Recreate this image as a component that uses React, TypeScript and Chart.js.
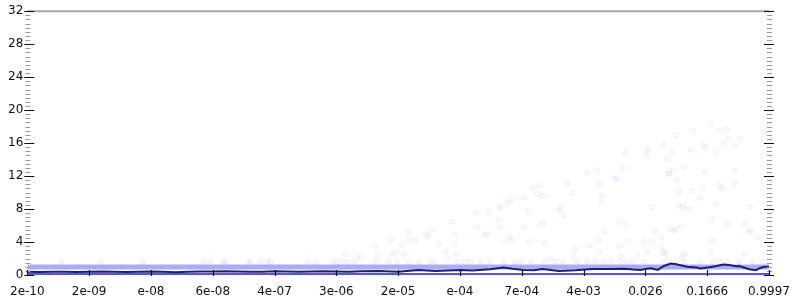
import React, { useEffect, useRef } from "react";
import { Chart, registerables } from "chart.js";

Chart.register(...registerables);

const xTickLabels = ["2e-10", "2e-09", "e-08", "6e-08", "4e-07", "3e-06", "2e-05", "e-04", "7e-04", "4e-03", "0.026", "0.1666", "0.9997"];
const yMajorTicks = [0, 4, 8, 12, 16, 20, 24, 28, 32];
const yMinorStep = 0.5;

const meanX = [0, 0.2, 0.4, 0.6, 0.8, 1.0, 1.2, 1.4, 1.6, 1.8, 2.0, 2.2, 2.4, 2.6, 2.8, 3.0, 3.2, 3.4, 3.6, 3.8, 4.0, 4.2, 4.4, 4.6, 4.8, 5.0, 5.2, 5.4, 5.69, 6.0, 6.33, 6.6, 7.01, 7.2, 7.49, 7.7, 7.85, 8.02, 8.2, 8.34, 8.6, 8.87, 9.14, 9.4, 9.67, 9.8, 9.93, 10.0, 10.09, 10.2, 10.3, 10.41, 10.5, 10.62, 10.67, 10.83, 10.89, 11.04, 11.15, 11.26, 11.35, 11.47, 11.52, 11.68, 11.79, 11.85, 11.92, 12];
const meanY = [0.38, 0.36, 0.4, 0.38, 0.35, 0.38, 0.41, 0.38, 0.36, 0.39, 0.43, 0.38, 0.34, 0.38, 0.41, 0.43, 0.46, 0.43, 0.4, 0.38, 0.44, 0.41, 0.38, 0.42, 0.46, 0.41, 0.38, 0.44, 0.48, 0.38, 0.62, 0.5, 0.62, 0.55, 0.7, 0.9, 0.75, 0.62, 0.58, 0.72, 0.5, 0.58, 0.72, 0.72, 0.76, 0.66, 0.62, 0.74, 0.82, 0.62, 1.1, 1.38, 1.3, 1.1, 1.0, 0.9, 0.8, 0.95, 1.1, 1.28, 1.2, 1.05, 1.1, 0.7, 0.58, 0.82, 1.0, 1.0];

const bandUpperY = 0.98;
const bandLowerY = 0.1;
const bandRangeX = [0, 12];

const outlierX = [8.03, 7.82, 7.77, 7.63, 7.66, 7.47, 7.25, 7.62, 6.87, 7.28, 7.65, 8.03, 6.55, 6.16, 6.45, 6.49, 7.39, 7.44, 6.91, 5.89, 6.19, 6.28, 7.80, 7.73, 7.83, 6.66, 6.06, 6.93, 5.63, 6.77, 5.91, 5.98, 6.10, 6.94, 5.15, 5.33, 5.40, 5.67, 6.80,
  11.06, 10.78, 11.20, 11.31, 10.49, 11.53, 11.35, 11.27, 11.46, 11.94, 10.30, 10.94, 10.97, 10.04, 10.02, 10.73, 10.42, 11.13, 9.67, 10.03, 10.35, 10.62, 9.63, 9.22, 9.05, 10.45, 10.95, 10.37, 10.39, 11.45, 9.51, 9.54, 10.51, 9.26, 8.74, 11.45, 8.28, 8.18, 11.20, 11.24, 10.94, 10.55, 10.76, 8.82, 8.26, 8.33, 9.30, 10.89, 9.29, 11.14, 10.11, 10.54, 10.60, 10.65, 10.73, 11.69, 8.62, 8.61, 8.68, 8.11, 11.07, 9.58, 9.68, 8.28, 8.35, 11.33, 11.61, 10.40, 10.45, 10.49, 10.57, 11.70, 11.68, 9.34, 10.17, 10.26, 9.24, 11.82, 8.12, 8.37, 9.73, 9.99, 10.09, 11.09, 9.10, 9.58, 10.26, 8.87, 9.24, 10.04, 10.30, 10.32, 11.06, 8.83, 9.60, 9.87, 10.60, 10.64, 11.60, 8.46];
const outlierY = [9.38, 9.19, 8.75, 8.31, 8.07, 7.71, 7.55, 6.59, 6.47, 5.79, 5.84, 5.79, 5.48, 5.15, 4.95, 4.71, 4.91, 4.95, 4.91, 4.43, 4.28, 4.07, 4.59, 4.16, 4.23, 3.75, 3.68, 3.68, 3.56, 2.79, 2.60, 2.72, 2.55, 2.55, 2.55, 2.31, 2.04, 2.31, 1.95,
  18.42, 17.53, 17.53, 17.62, 16.93, 16.50, 16.46, 15.90, 15.78, 17.38, 15.66, 15.66, 15.54, 15.30, 14.98, 15.18, 14.98, 14.98, 14.71, 14.47, 14.11, 13.06, 12.91, 12.70, 12.38, 12.70, 12.46, 12.31, 12.26, 12.70, 11.66, 11.71, 11.51, 11.06, 11.06, 11.27, 10.82, 10.55, 10.82, 10.58, 10.58, 10.27, 10.19, 9.98, 9.83, 9.59, 9.62, 9.43, 8.78, 8.55, 8.19, 8.47, 8.27, 7.95, 7.95, 8.31, 8.19, 7.79, 7.27, 7.79, 6.83, 6.47, 6.15, 6.11, 6.39, 6.20, 6.23, 5.60, 5.43, 5.55, 5.87, 5.39, 5.12, 5.19, 5.27, 4.52, 4.28, 4.59, 3.99, 3.87, 4.11, 3.99, 3.99, 4.11, 3.56, 3.51, 3.39, 3.12, 2.76, 2.76, 2.67, 2.79, 2.76, 2.31, 2.31, 2.31, 2.36, 2.55, 2.55, 1.95];

const nearBandX = [0.55, 1.19, 1.87, 2.85, 2.96, 3.17, 3.21, 3.57, 3.62, 3.78, 3.89, 3.94, 4.54, 4.67, 4.95, 5.03, 5.11, 5.19, 5.29, 5.64, 5.85, 5.98, 6.17, 6.33, 6.51, 6.59, 6.96, 7.07, 7.17, 7.33, 7.49, 7.71, 7.89, 7.99, 8.15, 8.37, 8.55, 8.66, 8.90, 9.06, 9.19, 9.32, 9.45, 9.59, 9.69, 9.80, 9.98, 10.30, 10.62, 10.89, 11.10, 11.20, 11.31, 11.52, 11.73, 11.89];
const nearBandY = [1.6, 1.6, 1.55, 1.6, 1.65, 1.6, 1.55, 1.6, 1.6, 1.65, 1.6, 1.55, 1.6, 1.6, 1.6, 1.55, 1.6, 1.6, 1.65, 1.6, 1.6, 1.6, 1.55, 1.6, 1.6, 1.6, 1.65, 1.6, 1.6, 1.6, 1.6, 1.6, 1.55, 1.6, 1.6, 1.6, 1.65, 1.6, 1.6, 1.6, 1.6, 1.55, 1.6, 1.6, 1.6, 1.6, 1.6, 1.6, 1.6, 1.6, 1.6, 1.65, 1.6, 1.6, 1.6, 1.6];

function drawAxisDecor(chart: any) {
  const ctx = chart.ctx;
  const area = chart.chartArea;
  const left = area.left, right = area.right, top = area.top, bottom = area.bottom;
  const ys = chart.scales["y"];
  const xs = chart.scales["x"];
  ctx.save();
  ctx.strokeStyle = "#aaaaaa";
  ctx.lineWidth = 2;
  ctx.beginPath();
  ctx.moveTo(left, top);
  ctx.lineTo(right, top);
  ctx.stroke();

  const yMin = yMajorTicks[0];
  const yMax = yMajorTicks[yMajorTicks.length - 1];
  ctx.lineWidth = 1;
  ctx.strokeStyle = "#9a9a9a";
  ctx.beginPath();
  for (let v = yMin; v <= yMax + 1e-9; v += yMinorStep) {
    if (yMajorTicks.indexOf(v) >= 0) continue;
    const py = Math.round(ys.getPixelForValue(v)) + 0.5;
    ctx.moveTo(left - 2, py);
    ctx.lineTo(left + 3, py);
    ctx.moveTo(right - 2, py);
    ctx.lineTo(right + 3, py);
  }
  ctx.stroke();

  ctx.strokeStyle = "#111111";
  ctx.lineWidth = 1.2;
  ctx.beginPath();
  for (const v of yMajorTicks) {
    const py = Math.round(ys.getPixelForValue(v)) + 0.5;
    ctx.moveTo(left - 3, py);
    ctx.lineTo(left + 7, py);
    ctx.moveTo(right - 5, py);
    ctx.lineTo(right + 5, py);
  }
  for (let i = 0; i < xTickLabels.length; i++) {
    const px = Math.round(xs.getPixelForValue(i)) + 0.5;
    ctx.moveTo(px, bottom - 5);
    ctx.lineTo(px, bottom + 1);
  }
  ctx.stroke();
  ctx.restore();
}

const axisPlugin = {
  id: "axisDecor",
  afterDraw(chart: any) {
    try {
      drawAxisDecor(chart);
    } catch (e: any) {
      // ignore
    }
  },
};

export default function App() {
  const ref = useRef<HTMLCanvasElement>(null);
  useEffect(() => {
    if (!ref.current) return;
    Chart.defaults.font.family = "'DejaVu Sans', sans-serif";
    Chart.defaults.font.size = 12;
    Chart.defaults.color = "#111111";
    const chart = new Chart(ref.current, {
      type: "scatter",
      data: {
        datasets: [
          {
            label: "mean",
            data: meanX.map((v, i) => ({ x: v, y: meanY[i] })),
            showLine: true,
            borderColor: "#1e1e72",
            borderWidth: 2,
            pointRadius: 0,
            tension: 0,
          },
          {
            label: "band-lower",
            data: bandRangeX.map((v) => ({ x: v, y: bandLowerY })),
            showLine: true,
            borderColor: "rgba(55,55,220,0.85)",
            borderWidth: 2.5,
            pointRadius: 0,
          },
          {
            label: "band-upper",
            data: bandRangeX.map((v) => ({ x: v, y: bandUpperY })),
            showLine: true,
            borderColor: "rgba(110,110,240,0.58)",
            borderWidth: 5,
            pointRadius: 0,
          },
          {
            label: "near",
            data: nearBandX.map((v, i) => ({ x: v, y: nearBandY[i] })),
            pointRadius: 2.5,
            backgroundColor: "rgba(140,140,255,0.05)",
            borderColor: "rgba(120,120,255,0.12)",
            borderWidth: 1,
          },
          {
            label: "outliers",
            data: outlierX.map((v, i) => ({ x: v, y: outlierY[i] })),
            pointRadius: 2.5,
            backgroundColor: "rgba(140,140,255,0.04)",
            borderColor: "rgba(120,120,255,0.1)",
            borderWidth: 1,
          },
        ],
      },
      options: {
        animation: false,
        responsive: false,
        events: [],
        layout: { padding: { top: 8, right: 23, left: 0, bottom: 0 } },
        plugins: { legend: { display: false }, tooltip: { enabled: false } },
        scales: {
          x: {
            type: "linear",
            min: 0,
            max: xTickLabels.length - 1,
            grid: { display: false, drawTicks: false },
            border: { display: false },
            ticks: {
              stepSize: 1,
              autoSkip: false,
              maxRotation: 0,
              padding: 10,
              callback: (v: any) => xTickLabels[Math.round(Number(v))] ?? "",
            },
            afterFit: (s: any) => { s.height = 25; },
          },
          y: {
            type: "linear",
            min: yMajorTicks[0],
            max: yMajorTicks[yMajorTicks.length - 1],
            grid: { display: false, drawTicks: false },
            border: { display: false },
            ticks: { stepSize: 4, padding: 4 },
            afterFit: (s: any) => { s.width = 22; },
          },
        },
      },
      plugins: [axisPlugin],
    });
    return () => chart.destroy();
  }, []);
  return (
    <div style={{ position: "fixed", left: 0, top: 0, width: 800, height: 300, background: "#fff" }}>
      <canvas ref={ref} width={800} height={300} style={{ display: "block" }} />
    </div>
  );
}
